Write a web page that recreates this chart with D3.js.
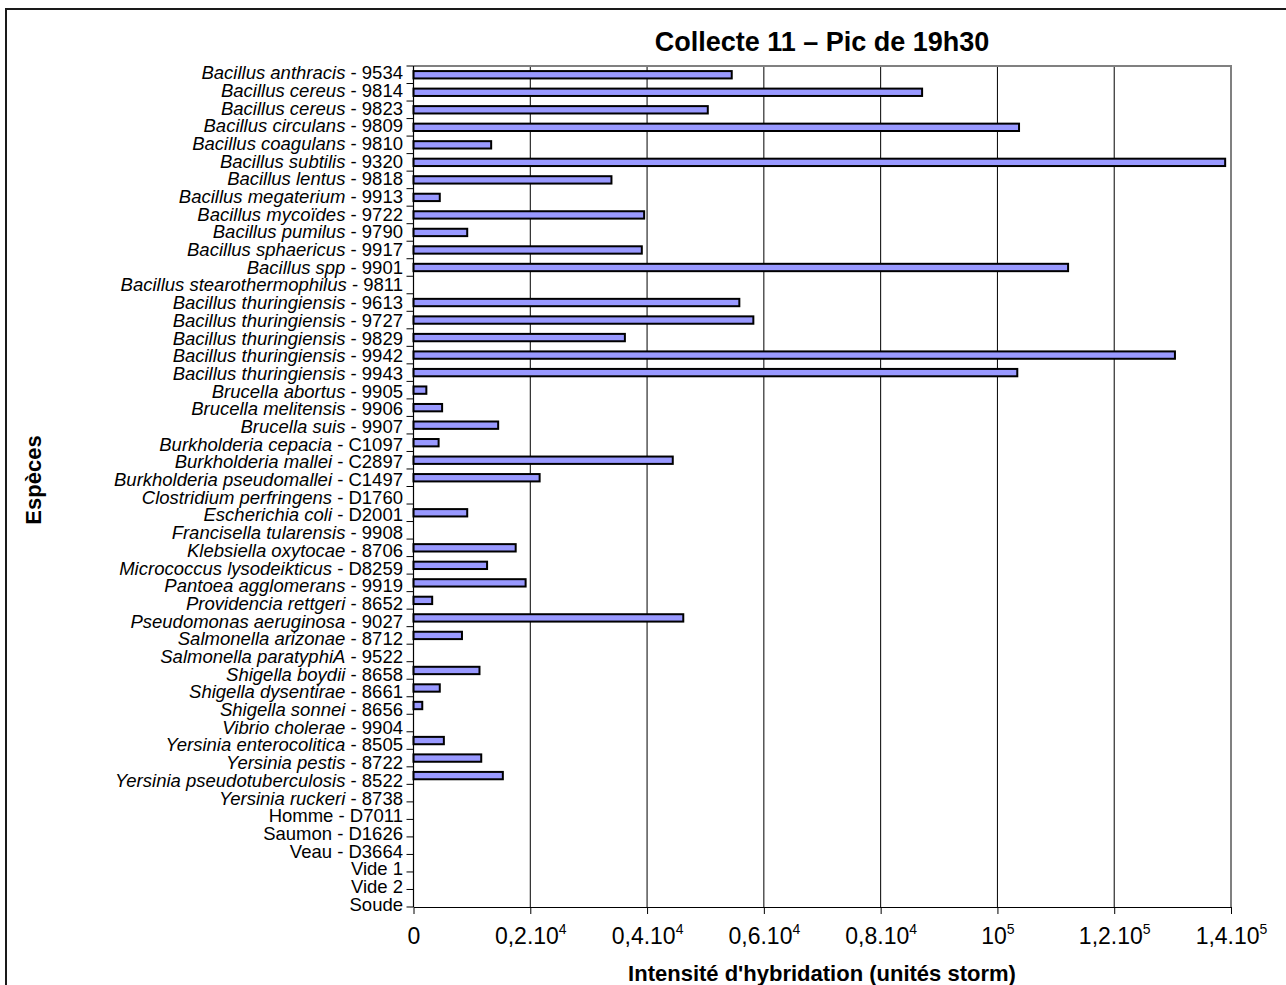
<!DOCTYPE html>
<html><head><meta charset="utf-8">
<script src="https://cdn.jsdelivr.net/npm/d3@7"></script>
<style>
body{margin:0;background:#fff}
svg{display:block}
text{font-family:"Liberation Sans",Arial,Helvetica,sans-serif;fill:#000}
</style>
</head><body>
<svg id="chart" width="1286" height="985"></svg>
<script>
const species = [
  "Bacillus anthracis","Bacillus cereus","Bacillus cereus","Bacillus circulans","Bacillus coagulans",
  "Bacillus subtilis","Bacillus lentus","Bacillus megaterium","Bacillus mycoïdes","Bacillus pumilus",
  "Bacillus sphaericus","Bacillus spp","Bacillus stearothermophilus","Bacillus thuringiensis","Bacillus thuringiensis",
  "Bacillus thuringiensis","Bacillus thuringiensis","Bacillus thuringiensis","Brucella abortus","Brucella melitensis",
  "Brucella suis","Burkholderia cepacia","Burkholderia mallei","Burkholderia pseudomallei","Clostridium perfringens",
  "Escherichia coli","Francisella tularensis","Klebsiella oxytocae","Micrococcus lysodeikticus","Pantoea agglomerans",
  "Providencia rettgeri","Pseudomonas aeruginosa","Salmonella arizonae","Salmonella paratyphiA","Shigella boydii",
  "Shigella dysentirae","Shigella sonnei","Vibrio cholerae","Yersinia enterocolitica","Yersinia pestis",
  "Yersinia pseudotuberculosis","Yersinia ruckeri","Homme","Saumon","Veau","Vide 1","Vide 2","Soude"
];
const codes = [
  "9534","9814","9823","9809","9810",
  "9320","9818","9913","9722","9790",
  "9917","9901","9811","9613","9727",
  "9829","9942","9943","9905","9906",
  "9907","C1097","C2897","C1497","D1760",
  "D2001","9908","8706","D8259","9919",
  "8652","9027","8712","9522","8658",
  "8661","8656","9904","8505","8722",
  "8522","8738","D7011","D1626","D3664","","",""
];
const italicSpecies = species.map((s, i) => i < 42);
const values = [
  54500, 87100, 50400, 103700, 13300,
  139000, 33900, 4500, 39500, 9200,
  39100, 112100, 0, 55800, 58200,
  36200, 130400, 103400, 2200, 4900,
  14500, 4300, 44400, 21600, 0,
  9200, 0, 17500, 12600, 19200,
  3200, 46200, 8300, 0, 11300,
  4500, 1500, 0, 5200, 11600,
  15300, 0, 0, 0, 0, 0, 0, 0
];
const tickValues = [0, 20000, 40000, 60000, 80000, 100000, 120000, 140000];
const tickMantissas = ["0", "0,2.10", "0,4.10", "0,6.10", "0,8.10", "10", "1,2.10", "1,4.10"];
const tickExponents = ["", "4", "4", "4", "4", "5", "5", "5"];
const chartTitle = "Collecte 11 – Pic de 19h30";
const xTitle = "Intensité d'hybridation (unités storm)";
const yTitle = "Espèces";

const plot = {left: 413.5, right: 1231, top: 66, bottom: 907};
const svg = d3.select("#chart");

// outer frame
svg.append("rect").attr("x", 6).attr("y", 9).attr("width", 1300).attr("height", 1000)
  .attr("fill", "none").attr("stroke", "#1a1a1a").attr("stroke-width", 2);

const labels = species.map((s, i) => codes[i] ? s + " - " + codes[i] : s);
const rows = labels.map((l, i) => ({label: l, sp: species[i], code: codes[i], it: italicSpecies[i], v: values[i]}));

const x = d3.scaleLinear().domain([0, 140000]).range([plot.left, plot.right]);
const y = d3.scaleBand().domain(labels).range([plot.top, plot.bottom]).padding(0);
const yLab = d3.scalePoint().domain(labels).range([72.5, 904]);

// gridlines
svg.append("g").selectAll("line").data(tickValues.slice(1, -1)).join("line")
  .attr("x1", d => x(d)).attr("x2", d => x(d))
  .attr("y1", plot.top).attr("y2", plot.bottom)
  .attr("stroke", "#000").attr("stroke-width", 1);

// plot area border (top/right)
svg.append("path")
  .attr("d", `M${plot.left},${plot.top}H${plot.right}V${plot.bottom}`)
  .attr("fill", "none").attr("stroke", "#808080").attr("stroke-width", 2);

// bars
const barH = y.bandwidth() * 0.42;
svg.append("g").selectAll("rect").data(rows.filter(r => r.v > 0)).join("rect")
  .attr("x", x(0))
  .attr("y", d => y(d.label) + (y.bandwidth() - barH) / 2)
  .attr("width", d => x(d.v) - x(0))
  .attr("height", barH)
  .attr("fill", "#9999ff").attr("stroke", "#000").attr("stroke-width", 2);

// x axis
const xAxis = svg.append("g").attr("transform", `translate(0,${plot.bottom})`)
  .call(d3.axisBottom(x).tickValues(tickValues).tickSize(7).tickSizeOuter(0).tickFormat(""));
xAxis.select(".domain").attr("stroke", "#000").attr("stroke-width", 1.2);
xAxis.selectAll(".tick line").attr("stroke", "#000");
xAxis.selectAll(".tick").each(function(d, i) {
  const t = d3.select(this).select("text");
  t.attr("y", 37).attr("dy", null).attr("text-anchor", "middle")
    .style("font-size", "23px").style("font-family", "'Liberation Sans',Arial,sans-serif").attr("fill", "#000");
  t.text(null);
  t.append("tspan").text(tickMantissas[i]);
  if (tickExponents[i]) t.append("tspan").attr("dy", -10).style("font-size", "14px").text(tickExponents[i]);
});

// y axis
svg.append("line").attr("x1", x(0)).attr("x2", x(0)).attr("y1", plot.top).attr("y2", plot.bottom)
  .attr("stroke", "#000").attr("stroke-width", 1.2);
const boundaries = labels.map(l => y(l)).concat([plot.bottom]);
svg.append("g").selectAll("line").data(boundaries).join("line")
  .attr("x1", x(0) - 7).attr("x2", x(0)).attr("y1", d => d).attr("y2", d => d)
  .attr("stroke", "#000").attr("stroke-width", 1);

// category labels
const lab = svg.append("g").selectAll("text").data(rows).join("text")
  .attr("x", 403).attr("y", d => yLab(d.label)).attr("dy", "0.36em")
  .attr("text-anchor", "end").style("font-size", "18.5px");
lab.append("tspan").style("font-style", d => d.it ? "italic" : "normal").text(d => d.sp);
lab.append("tspan").text(d => d.code ? " - " + d.code : "");

// titles
svg.append("text").attr("x", 822).attr("y", 51).attr("text-anchor", "middle")
  .style("font-size", "27px").style("font-weight", "bold").text(chartTitle);
svg.append("text").attr("x", 822).attr("y", 981).attr("text-anchor", "middle")
  .style("font-size", "22px").style("font-weight", "bold").text(xTitle);
svg.append("text").attr("transform", "translate(41,480) rotate(-90)").attr("text-anchor", "middle")
  .style("font-size", "22px").style("font-weight", "bold").text(yTitle);
</script>
</body></html>
